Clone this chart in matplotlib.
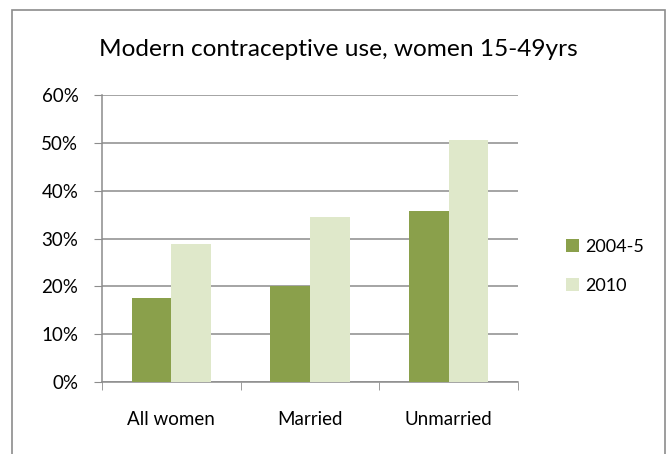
import numpy as np
import matplotlib.pyplot as plt
from matplotlib.patches import Rectangle
from matplotlib.ticker import FuncFormatter

plt.rcParams['font.family'] = ['Lato', 'DejaVu Sans']

categories = ["All women", "Married", "Unmarried"]
series_names = ["2004-5", "2010"]
vals_2004 = [17.6, 20.0, 35.7]
vals_2010 = [28.8, 34.5, 50.6]
colors = ["#8AA04B", "#DFE8CA"]

W, H = 671, 454
fig = plt.figure(figsize=(W / 100, H / 100), dpi=100)

# outer chart border (bottom runs off the image)
fig.patches.append(Rectangle((12 / W, -0.05), (665 - 12) / W, 1.05 - 10 / H,
                             transform=fig.transFigure, fill=False,
                             edgecolor="#8c8c8c", linewidth=1.2))

ax = fig.add_axes([102 / W, 1 - 382 / H, (518 - 102) / W, (382 - 95) / H])

x = np.arange(len(categories))
bw = 0.285
ax.bar(x - bw / 2, vals_2004, bw, color=colors[0], label=series_names[0], zorder=3)
ax.bar(x + bw / 2, vals_2010, bw, color=colors[1], label=series_names[1], zorder=3)

ax.set_xlim(-0.5, 2.5)
ax.set_ylim(0, 60)
ax.set_yticks(range(0, 61, 10))
ax.yaxis.set_major_formatter(FuncFormatter(lambda v, p: f"{int(v)}%"))
ax.set_xticks(x)
ax.set_xticklabels(categories)
ax.set_xticks([-0.5, 0.5, 1.5, 2.5], minor=True)
ax.tick_params(axis="x", which="major", length=0, pad=21, labelsize=13.5)
ax.tick_params(axis="x", which="minor", length=6, color="#8c8c8c", direction="out")
ax.tick_params(axis="y", length=6, color="#8c8c8c", labelsize=13.5, pad=11)

ax.grid(axis="y", color="#8c8c8c", linewidth=1.1, zorder=0)
for s in ["top", "right"]:
    ax.spines[s].set_visible(False)
for s in ["left", "bottom"]:
    ax.spines[s].set_color("#8c8c8c")
    ax.spines[s].set_linewidth(1.1)

fig.text(338 / W, 1 - 50 / H, "Modern contraceptive use, women 15-49yrs",
         ha="center", va="center", fontsize=17.6)

ax.legend(loc="upper left", bbox_to_anchor=(553 / W, 1 - 226 / H),
          bbox_transform=fig.transFigure, frameon=False, fontsize=13,
          handlelength=0.75, handleheight=0.75, handletextpad=0.35,
          labelspacing=1.3, borderpad=0.2)

fig.savefig("out.png", dpi=100)
